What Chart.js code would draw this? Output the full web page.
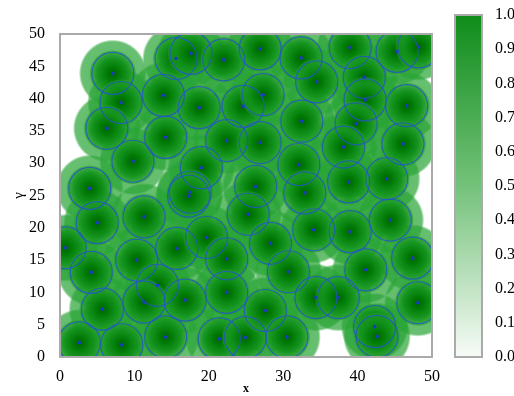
<!DOCTYPE html>
<html>
<head>
<meta charset="utf-8">
<script src="https://cdn.jsdelivr.net/npm/chart.js@4.4.1/dist/chart.umd.min.js"></script>
<style>
  html, body { margin: 0; padding: 0; background: #fff; }
  #wrap { position: relative; width: 514px; height: 396px; }
  #main { position: absolute; left: 0; top: 0; }
  #cbar { position: absolute; left: 440px; top: 0; }
</style>
</head>
<body>
<div id="wrap">
  <canvas id="main" width="514" height="396"></canvas>
  <canvas id="cbar" width="74" height="396"></canvas>
</div>
<script>
// point centres
const xs = [7.1, 8.2, 6.3, 9.8, 4.0, 15.6, 17.6, 22.0, 13.9, 18.7,
            14.2, 19.0, 17.5, 17.3, 22.4, 24.6, 26.9, 26.3, 32.4, 39.0,
            45.3, 48.2, 34.5, 40.9, 27.3, 41.0, 46.6, 32.5, 39.8, 26.9,
            38.1, 46.1, 32.1, 38.8, 43.9, 32.9, 5.0, 11.3, 0.7, 4.2,
            10.3, 15.7, 19.7, 22.4, 13.1, 11.3, 16.8, 22.4, 5.7, 2.6,
            8.3, 14.2, 21.4, 24.9, 25.3, 44.4, 34.1, 39.0, 28.3, 47.4,
            30.7, 41.1, 34.4, 37.4, 48.1, 27.6, 42.3, 42.6, 30.5];
const ys = [43.9, 39.4, 35.4, 30.3, 26.1, 46.2, 47.0, 46.0, 40.5, 38.6,
            34.0, 29.3, 25.5, 24.9, 33.5, 38.8, 47.7, 26.4, 46.3, 47.9,
            47.3, 48.0, 42.6, 43.3, 40.6, 39.8, 38.9, 36.5, 36.1, 33.2,
            32.5, 33.0, 29.8, 27.1, 27.6, 25.4, 20.8, 21.7, 16.9, 13.1,
            15.0, 16.8, 18.5, 15.2, 11.1, 8.5, 8.8, 10.0, 7.4, 2.2,
            1.9, 3.1, 2.8, 3.0, 22.1, 21.2, 19.7, 19.4, 17.6, 15.3,
            13.2, 13.5, 9.2, 9.2, 8.4, 7.2, 4.7, 3.2, 3.1];
const xTicks = [0, 10, 20, 30, 40, 50];
const yTicks = [0, 5, 10, 15, 20, 25, 30, 35, 40, 45, 50];
const cbTicks = [0, 0.1, 0.2, 0.3, 0.4, 0.5, 0.6, 0.7, 0.8, 0.9, 1.0];

const pts = xs.map((x, i) => ({ x: x, y: ys[i] }));
const serif = "'Liberation Serif', 'DejaVu Serif', serif";
const HALO_R = 34;
const CORE_R = 23;

function pixelOf(c) {
  const chart = c.chart;
  if (!c.raw || !chart.scales.x || !chart.scales.y) return null;
  const px = chart.scales.x.getPixelForValue(c.raw.x);
  const py = chart.scales.y.getPixelForValue(c.raw.y);
  if (!isFinite(px) || !isFinite(py)) return null;
  return [px, py];
}

// pale outer halo
function haloFill(c) {
  const p = pixelOf(c);
  if (!p) return 'rgba(0,0,0,0)';
  const g = c.chart.ctx.createRadialGradient(p[0], p[1], 0, p[0], p[1], HALO_R);
  g.addColorStop(0, 'rgba(38,162,50,0.75)');
  g.addColorStop(0.93, 'rgba(40,164,53,0.7)');
  g.addColorStop(1, 'rgba(40,164,53,0)');
  return g;
}

// dark core, fading out towards the blue ring
function coreFill(c) {
  const p = pixelOf(c);
  if (!p) return 'rgba(0,0,0,0)';
  const g = c.chart.ctx.createRadialGradient(p[0], p[1], 0, p[0], p[1], CORE_R);
  g.addColorStop(0, 'rgba(0,100,0,1)');
  g.addColorStop(0.25, 'rgba(0,122,5,1)');
  g.addColorStop(0.65, 'rgba(18,146,28,0.95)');
  g.addColorStop(1, 'rgba(35,160,45,0.5)');
  return g;
}

const frame = {
  id: 'frame',
  afterDraw(chart) {
    const a = chart.chartArea, ctx = chart.ctx;
    ctx.save();
    ctx.strokeStyle = '#aaaaaa';
    ctx.lineWidth = 2;
    ctx.strokeRect(a.left, a.top, a.right - a.left, a.bottom - a.top);
    ctx.restore();
  }
};

new Chart(document.getElementById('main'), {
  type: 'scatter',
  data: {
    datasets: [
      // higher order is drawn first (underneath)
      { data: pts, order: 3, pointStyle: 'circle', pointRadius: HALO_R, pointBorderWidth: 0,
        pointBackgroundColor: haloFill, clip: 0 },
      { data: pts, order: 2, pointStyle: 'circle', pointRadius: CORE_R, pointBorderWidth: 0,
        pointBackgroundColor: coreFill, clip: 0 },
      { data: pts, order: 1, pointStyle: 'circle', pointRadius: 21, pointBorderWidth: 1.2,
        pointBorderColor: 'rgba(35,85,200,0.8)', pointBackgroundColor: 'rgba(0,0,0,0)', clip: 0 },
      { data: pts, order: 0, pointStyle: 'circle', pointRadius: 1.8, pointBorderWidth: 0,
        pointBackgroundColor: '#1c3cc8', clip: 0 }
    ]
  },
  options: {
    responsive: false,
    animation: false,
    devicePixelRatio: 1,
    events: [],
    layout: { padding: { top: 15, right: 82, left: 10, bottom: 0 } },
    plugins: { legend: { display: false }, tooltip: { enabled: false } },
    scales: {
      x: {
        type: 'linear', min: 0, max: 50,
        afterBuildTicks: s => { s.ticks = xTicks.map(v => ({ value: v })); },
        afterFit: s => { s.height = 39; },
        grid: { display: false },
        border: { display: false },
        ticks: { color: '#000', font: { family: serif, size: 16 }, padding: 2 },
        title: { display: true, text: 'x', color: '#000', padding: 0,
                 font: { family: serif, size: 12, weight: 'bold' } }
      },
      y: {
        type: 'linear', min: 0, max: 50,
        afterBuildTicks: s => { s.ticks = yTicks.map(v => ({ value: v })); },
        afterFit: s => { s.width = 50; },
        grid: { display: false },
        border: { display: false },
        ticks: { color: '#000', font: { family: serif, size: 16 }, padding: 7 },
        title: { display: true, text: 'γ', color: '#000', padding: 0,
                 font: { family: serif, size: 15 } }
      }
    }
  },
  plugins: [frame]
});

const gradientBar = {
  id: 'gradientBar',
  beforeDatasetsDraw(chart) {
    const a = chart.chartArea, ctx = chart.ctx;
    const grad = ctx.createLinearGradient(0, a.bottom, 0, a.top);
    grad.addColorStop(0, '#f7fbf7');
    grad.addColorStop(0.5, '#74c27a');
    grad.addColorStop(1, '#0f8c1a');
    ctx.save();
    ctx.fillStyle = grad;
    ctx.fillRect(a.left, a.top, a.right - a.left, a.bottom - a.top);
    ctx.restore();
  }
};

new Chart(document.getElementById('cbar'), {
  type: 'scatter',
  data: { datasets: [{ data: [] }] },
  options: {
    responsive: false,
    animation: false,
    devicePixelRatio: 1,
    events: [],
    layout: { padding: { top: 15, left: 15, right: 0, bottom: 39 } },
    plugins: { legend: { display: false }, tooltip: { enabled: false } },
    scales: {
      x: { type: 'linear', min: 0, max: 1, display: false },
      y: {
        type: 'linear', position: 'right', min: 0, max: 1,
        afterBuildTicks: s => { s.ticks = cbTicks.map(v => ({ value: v })); },
        afterFit: s => { s.width = 32; },
        grid: { display: false },
        border: { display: false },
        ticks: { color: '#000', padding: 5, font: { family: serif, size: 16 },
                 callback: v => v.toFixed(1) }
      }
    }
  },
  plugins: [gradientBar, frame]
});
</script>
</body>
</html>
